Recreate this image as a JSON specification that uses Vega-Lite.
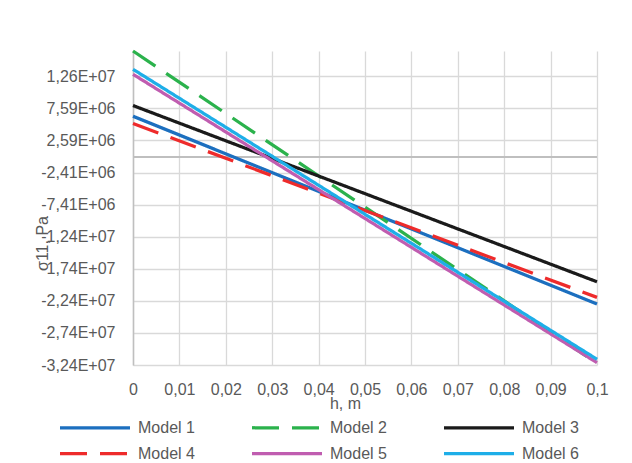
{
  "$schema": "https://vega.github.io/schema/vega-lite/v6.json",
  "width": 464,
  "height": 314,
  "autosize": {"type": "none"},
  "padding": {"left": 133, "top": 51, "right": 35, "bottom": 98},
  "background": "white",
  "config": {
    "font": "Liberation Sans",
    "view": {"stroke": null},
    "axis": {"labelColor": "#595959", "titleColor": "#595959", "labelFontSize": 16, "titleFontSize": 16, "titleFontWeight": "normal", "gridColor": "#d9d9d9", "gridWidth": 1.3, "ticks": false, "labelOverlap": false, "labelFlush": false},
    "legend": {"labelColor": "#595959", "labelFontSize": 16}
  },
  "data": {
    "values": [
      {"h": 0, "s": 6360000, "model": "Model 1"},
      {"h": 0.1, "s": -22900000, "model": "Model 1"},
      {"h": 0, "s": 16530000, "model": "Model 2"},
      {"h": 0.1, "s": -32150000, "model": "Model 2"},
      {"h": 0, "s": 8030000, "model": "Model 3"},
      {"h": 0.1, "s": -19440000, "model": "Model 3"},
      {"h": 0, "s": 5220000, "model": "Model 4"},
      {"h": 0.1, "s": -21870000, "model": "Model 4"},
      {"h": 0, "s": 12900000, "model": "Model 5"},
      {"h": 0.1, "s": -32050000, "model": "Model 5"},
      {"h": 0, "s": 13680000, "model": "Model 6"},
      {"h": 0.1, "s": -31520000, "model": "Model 6"}
    ]
  },
  "layer": [
    {
      "mark": {"type": "rule", "color": "#bfbfbf", "strokeWidth": 1.5},
      "encoding": {
        "y": {
          "datum": 0, "type": "quantitative",
          "scale": {"domain": [-32410000, 16530000], "nice": false, "zero": false},
          "axis": {
            "title": "σ11, Pa",
            "grid": true,
            "values": [-32410000, -27410000, -22410000, -17410000, -12410000, -7410000, -2410000, 2590000, 7590000, 12590000],
            "labelExpr": "(datum.value < 0 ? '-' : '') + replace(replace(format(abs(datum.value), '.2e'), '.', ','), 'e+', 'E+0')",
            "labelPadding": 18,
            "domain": true,
            "domainColor": "#bfbfbf",
            "domainWidth": 1.5,
            "titleX": -86,
            "titleY": 192,
            "titleAngle": -90,
            "titleBaseline": "alphabetic",
            "titleAlign": "center"
          }
        }
      }
    },
    {
      "mark": {"type": "line", "strokeWidth": 3.25, "strokeCap": "butt"},
      "encoding": {
        "x": {
          "field": "h", "type": "quantitative",
          "scale": {"domain": [0, 0.1], "nice": false, "zero": false},
          "axis": {
            "title": "h, m",
            "grid": true,
            "values": [0, 0.01, 0.02, 0.03, 0.04, 0.05, 0.06, 0.07, 0.08, 0.09, 0.1],
            "labelExpr": "replace(datum.value + '', '.', ',')",
            "labelPadding": 16,
            "domain": false,
            "titleX": 212,
            "titleY": 43,
            "titleBaseline": "alphabetic",
            "titleAlign": "center"
          }
        },
        "y": {
          "field": "s", "type": "quantitative",
          "scale": {"domain": [-32410000, 16530000], "nice": false, "zero": false},
          "axis": {
            "title": "σ11, Pa",
            "grid": true,
            "values": [-32410000, -27410000, -22410000, -17410000, -12410000, -7410000, -2410000, 2590000, 7590000, 12590000],
            "labelExpr": "(datum.value < 0 ? '-' : '') + replace(replace(format(abs(datum.value), '.2e'), '.', ','), 'e+', 'E+0')",
            "labelPadding": 18,
            "domain": true,
            "domainColor": "#bfbfbf",
            "domainWidth": 1.5,
            "titleX": -86,
            "titleY": 192,
            "titleAngle": -90,
            "titleBaseline": "alphabetic",
            "titleAlign": "center"
          }
        },
        "color": {
          "field": "model", "type": "nominal",
          "scale": {"domain": ["Model 1", "Model 2", "Model 3", "Model 4", "Model 5", "Model 6"], "range": ["#1c6fbf", "#2bb24c", "#1a1a1a", "#ee2b2b", "#c05db0", "#1eaee8"]},
          "legend": {
            "title": null,
            "orient": "none",
            "legendX": -75,
            "legendY": 362,
            "direction": "horizontal",
            "columns": 3,
            "gridAlign": "all",
            "columnPadding": 50,
            "rowPadding": 3,
            "symbolType": "M-1,0H4.6",
            "symbolSize": 625,
            "symbolStrokeWidth": 3.25,
            "labelOffset": 51,
            "labelLimit": 200
          }
        },
        "strokeDash": {
          "field": "model", "type": "nominal",
          "scale": {"domain": ["Model 1", "Model 2", "Model 3", "Model 4", "Model 5", "Model 6"], "range": [[1, 0], [27, 13], [1, 0], [27, 13], [1, 0], [1, 0]]},
          "legend": null
        }
      }
    }
  ]
}
